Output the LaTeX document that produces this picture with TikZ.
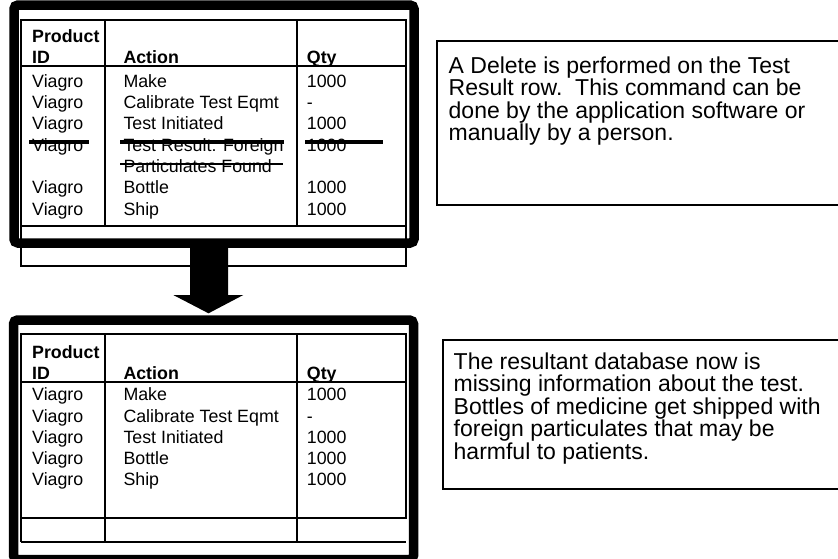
\documentclass[tikz,border=0pt]{standalone}
\usepackage{fontspec}
\setmainfont{Liberation Sans}
\begin{document}
\begin{tikzpicture}[x=1pt,y=-1pt,
  frame/.style={line width=9.5pt, rounded corners=4pt},
  tline/.style={line width=1.8pt},
  cell/.style={anchor=base west, inner sep=0pt, font=\fontsize{17.8}{21}\selectfont},
  hcell/.style={anchor=base west, inner sep=0pt, font=\fontsize{17.8}{21}\selectfont\bfseries},
  strikeA/.style={line width=4pt},
  strikeB/.style={line width=2.5pt},
  note/.style={anchor=base west, inner sep=0pt, font=\fontsize{23}{22.5}\selectfont},
  notebox/.style={line width=2pt}
]
\useasboundingbox (0,0) rectangle (838,558);

% ---------- top table ----------
\draw[tline] (21,226) rectangle (406,266);
\draw[tline] (21,20) rectangle (406,226);
\draw[tline] (21,66) -- (406,66);
\draw[tline] (105,20) -- (105,226);
\draw[tline] (297,20) -- (297,226);

\node[hcell] (tp) at (32,42.3) {Product};
\node[hcell] (tid) at (32,63.3) {ID};
\node[hcell] (tact) at (123.3,63.3) {Action};
\node[hcell] (tqty) at (306.7,63.3) {Qty};

\node[cell] (t1a) at (32,87.3) {Viagro};
\node[cell] (t1b) at (123.3,87.3) {Make};
\node[cell] (t1c) at (306.7,87.3) {1000};
\node[cell] (t2a) at (32,108.6) {Viagro};
\node[cell] (t2b) at (123.3,108.6) {Calibrate Test Eqmt};
\node[cell] (t2c) at (306.7,108.6) {-};
\node[cell] (t3a) at (32,129.9) {Viagro};
\node[cell] (t3b) at (123.3,129.9) {Test Initiated};
\node[cell] (t3c) at (306.7,129.9) {1000};
\node[cell] (t4a) at (32,151.2) {Viagro};
\node[cell] (t4b) at (123.3,151.2) {Test Result: Foreign};
\node[cell] (t4c) at (306.7,151.2) {1000};
\node[cell] (t5b) at (123.3,172.5) {Particulates Found};
\node[cell] (t6a) at (32,193.8) {Viagro};
\node[cell] (t6b) at (123.3,193.8) {Bottle};
\node[cell] (t6c) at (306.7,193.8) {1000};
\node[cell] (t7a) at (32,215.1) {Viagro};
\node[cell] (t7b) at (123.3,215.1) {Ship};
\node[cell] (t7c) at (306.7,215.1) {1000};

% strike-through lines
\draw[strikeA] (29,141.7) -- (89,141.7);
\draw[strikeA] (120,141.7) -- (284,141.7);
\draw[strikeA] (305,141.7) -- (383,141.7);
\draw[strikeB] (120,164) -- (283,164);

% ---------- block arrow ----------
\fill (190,240) -- (228,240) -- (228,295) -- (243.3,295) -- (208.5,313.3)
      -- (173.3,295) -- (190,295) -- cycle;

% top monitor frame
\draw[frame] (14,5) rectangle (414,243);

% ---------- bottom table ----------
\draw[tline] (21,334) rectangle (406,518);
\draw[tline] (21,382) -- (406,382);
\draw[tline] (105,334) -- (105,542);
\draw[tline] (297,334) -- (297,542);
\draw[tline] (21,518) -- (21,542);
\draw[tline] (21,542) -- (406,542);

\node[hcell] (bp) at (32,358) {Product};
\node[hcell] (bid) at (32,379.3) {ID};
\node[hcell] (bact) at (123.3,379.3) {Action};
\node[hcell] (bqty) at (306.7,379.3) {Qty};

\node[cell] (b1a) at (32,400.7) {Viagro};
\node[cell] (b1b) at (123.3,400.7) {Make};
\node[cell] (b1c) at (306.7,400.7) {1000};
\node[cell] (b2a) at (32,422) {Viagro};
\node[cell] (b2b) at (123.3,422) {Calibrate Test Eqmt};
\node[cell] (b2c) at (306.7,422) {-};
\node[cell] (b3a) at (32,443.3) {Viagro};
\node[cell] (b3b) at (123.3,443.3) {Test Initiated};
\node[cell] (b3c) at (306.7,443.3) {1000};
\node[cell] (b4a) at (32,464.6) {Viagro};
\node[cell] (b4b) at (123.3,464.6) {Bottle};
\node[cell] (b4c) at (306.7,464.6) {1000};
\node[cell] (b5a) at (32,485.9) {Viagro};
\node[cell] (b5b) at (123.3,485.9) {Ship};
\node[cell] (b5c) at (306.7,485.9) {1000};

% bottom monitor frame
\draw[frame] (13.5,320) rectangle (413.5,559.5);

% ---------- notes ----------
\draw[notebox] (437,41) rectangle (850,205);
\node[note] (n1a) at (448.5,73.3) {A Delete is performed on the Test};
\node[note] (n1b) at (448.5,95.8) {Result row.\ \ This command can be};
\node[note] (n1c) at (448.5,118.3) {done by the application software or};
\node[note] (n1d) at (448.5,140.8) {manually by a person.};

\draw[notebox] (443,340) rectangle (850,489);
\node[note] (n2a) at (453.5,369.3) {The resultant database now is};
\node[note] (n2b) at (453.5,391.8) {missing information about the test.};
\node[note] (n2c) at (453.5,414.3) {Bottles of medicine get shipped with};
\node[note] (n2d) at (453.5,436.8) {foreign particulates that may be};
\node[note] (n2e) at (453.5,459.3) {harmful to patients.};
\end{tikzpicture}
\end{document}
